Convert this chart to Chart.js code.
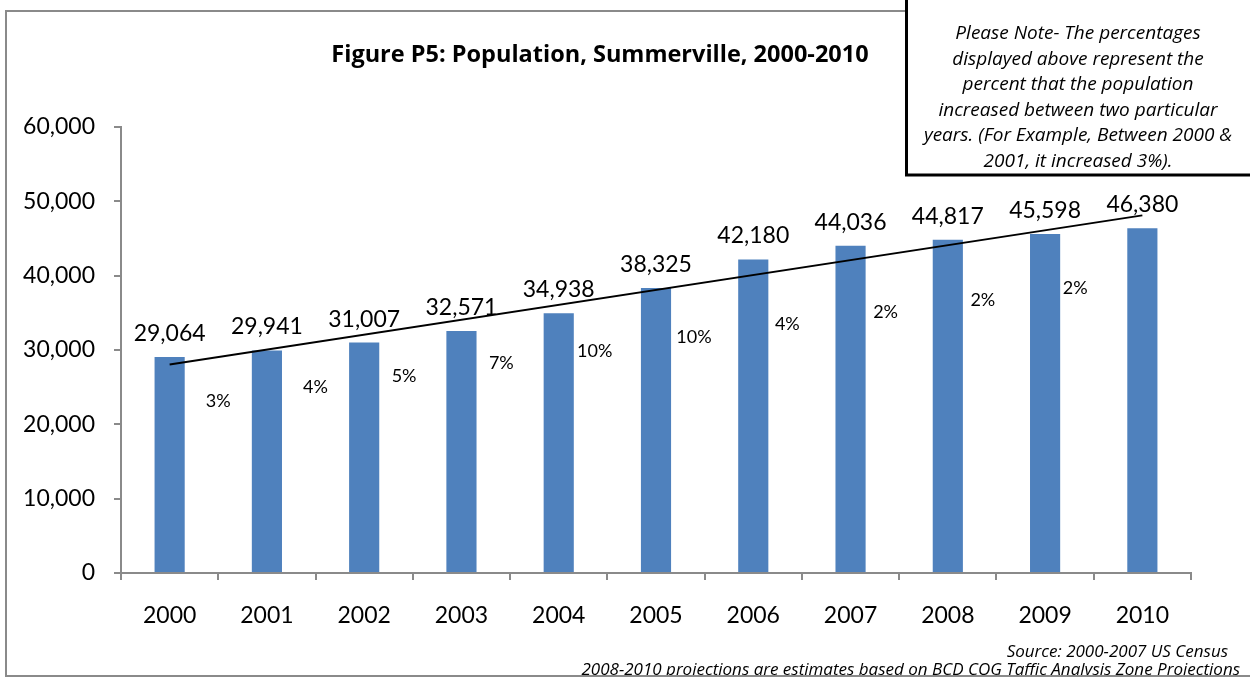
<!DOCTYPE html>
<html>
<head>
<meta charset="utf-8">
<title>Figure P5: Population, Summerville, 2000-2010</title>
<script src="https://cdn.jsdelivr.net/npm/chart.js@4.4.1/dist/chart.umd.min.js"></script>
<style>
  html, body { margin: 0; padding: 0; background: #fff; }
  #wrap { width: 1250px; height: 677px; position: relative; }
</style>
</head>
<body>
<div id="wrap"><canvas id="chart" width="1250" height="677"></canvas></div>
<script>
// ═══ DATA ═══
const years = ['2000', '2001', '2002', '2003', '2004', '2005', '2006', '2007', '2008', '2009', '2010'];
const population = [29064, 29941, 31007, 32571, 34938, 38325, 42180, 44036, 44817, 45598, 46380];
const yTicks = [0, 10000, 20000, 30000, 40000, 50000, 60000];

// percentage increase between two years, and where each text box sits (category index, population)
const pctLabels = ['3%', '4%', '5%', '7%', '10%', '10%', '4%', '2%', '2%', '2%'];
const pctAnchorX = [0.50, 1.50, 2.41, 3.41, 4.37, 5.39, 6.35, 7.36, 8.36, 9.31];
const pctAnchorY = [23140, 24930, 26510, 28230, 29880, 31670, 33490, 35040, 36660, 38340];

const trendX = [0, 10];
const trendY = [28040, 48110];

const titleText = 'Figure P5: Population, Summerville, 2000-2010';
const noteLines = [
  'Please Note- The percentages',
  'displayed above represent the',
  'percent that the population',
  'increased between two particular',
  'years. (For Example, Between 2000 &',
  '2001, it increased 3%).'
];
const sourceLines = [
  'Source: 2000-2007 US Census',
  '2008-2010 projections are estimates based on BCD COG Taffic Analysis Zone Projections'
];

const BAR_BLUE = '#4F81BD';
const AXIS_GRAY = '#8A8A8A';
const FONT = 'Lato, "Open Sans", sans-serif';
const FONT_WIDE = '"Open Sans", Lato, sans-serif';

Chart.defaults.font.family = FONT;
Chart.defaults.color = '#000';

// ═══ PLUGINS ═══
const valueLabels = {
  id: 'valueLabels',
  afterDatasetsDraw(chart) {
    const ctx = chart.ctx;
    ctx.save();
    ctx.fillStyle = '#000';
    ctx.textAlign = 'center';
    ctx.textBaseline = 'alphabetic';
    ctx.font = '23px ' + FONT;
    chart.getDatasetMeta(0).data.forEach((bar, i) => {
      ctx.fillText(population[i].toLocaleString('en-US'), bar.x, bar.y - 16);
    });
    ctx.font = '18px ' + FONT;
    ctx.textBaseline = 'middle';
    chart.getDatasetMeta(2).data.forEach((pt, i) => {
      ctx.fillText(pctLabels[i], pt.x, pt.y);
    });
    ctx.restore();
  }
};

const decorations = {
  id: 'decorations',
  afterDraw(chart) {
    const ctx = chart.ctx;
    ctx.save();

    // title
    ctx.fillStyle = '#000';
    ctx.textAlign = 'center';
    ctx.textBaseline = 'alphabetic';
    ctx.font = 'bold 23.5px ' + FONT_WIDE;
    ctx.fillText(titleText, 600, 62);

    // source lines
    ctx.font = 'italic 17px ' + FONT_WIDE;
    ctx.textAlign = 'right';
    ctx.fillText(sourceLines[0], 1228, 657);
    ctx.fillText(sourceLines[1], 1240, 675);

    // outer frame
    ctx.strokeStyle = AXIS_GRAY;
    ctx.lineWidth = 2;
    ctx.strokeRect(6, 11, 1300, 665);

    // note box
    ctx.fillStyle = '#fff';
    ctx.fillRect(906, -5, 360, 180);
    ctx.strokeStyle = '#000';
    ctx.lineWidth = 3;
    ctx.strokeRect(906.5, -5, 360, 180);
    ctx.fillStyle = '#000';
    ctx.textAlign = 'center';
    ctx.textBaseline = 'middle';
    ctx.font = 'italic 19px ' + FONT_WIDE;
    noteLines.forEach((line, i) => ctx.fillText(line, 1078, 34 + i * 25.5));

    ctx.restore();
  }
};

// ═══ CHART ═══
new Chart(document.getElementById('chart'), {
  type: 'bar',
  data: {
    labels: years,
    datasets: [
      {
        label: 'Population',
        data: population,
        backgroundColor: BAR_BLUE,
        barPercentage: 0.31,
        categoryPercentage: 1,
        grouped: false,
        order: 2
      },
      {
        type: 'line',
        label: 'Trend',
        xAxisID: 'xp',
        data: trendX.map((x, i) => ({ x, y: trendY[i] })),
        borderColor: '#000',
        borderWidth: 2,
        pointRadius: 0,
        tension: 0,
        order: 1
      },
      {
        type: 'scatter',
        label: 'Increase',
        xAxisID: 'xp',
        data: pctAnchorX.map((x, i) => ({ x, y: pctAnchorY[i] })),
        pointRadius: 0,
        showLine: false,
        order: 0
      }
    ]
  },
  options: {
    responsive: false,
    animation: false,
    events: [],
    layout: { padding: { top: 127, right: 59, left: 0, bottom: 0 } },
    plugins: {
      legend: { display: false },
      title: { display: false },
      tooltip: { enabled: false }
    },
    scales: {
      x: {
        type: 'category',
        grid: { drawOnChartArea: false, offset: true, tickLength: 7, color: AXIS_GRAY, lineWidth: 2 },
        border: { color: AXIS_GRAY, width: 2 },
        ticks: { font: { size: 23 }, padding: 22, color: '#000' },
        afterFit: s => { s.height = 104; }
      },
      xp: {
        type: 'linear',
        display: false,
        offset: false,
        grid: { offset: false },
        min: -0.5,
        max: 10.5,
        afterDataLimits: s => { s.min = -0.5; s.max = 10.5; }
      },
      y: {
        min: 0,
        max: 60000,
        grid: { drawOnChartArea: false, tickLength: 7, color: AXIS_GRAY, lineWidth: 2 },
        border: { color: AXIS_GRAY, width: 2 },
        ticks: {
          font: { size: 23 },
          padding: 19,
          color: '#000',
          callback: v => v.toLocaleString('en-US')
        },
        afterBuildTicks: s => { s.ticks = yTicks.map(v => ({ value: v })); },
        afterFit: s => { s.width = 121; }
      }
    }
  },
  plugins: [valueLabels, decorations]
});
</script>
</body>
</html>
